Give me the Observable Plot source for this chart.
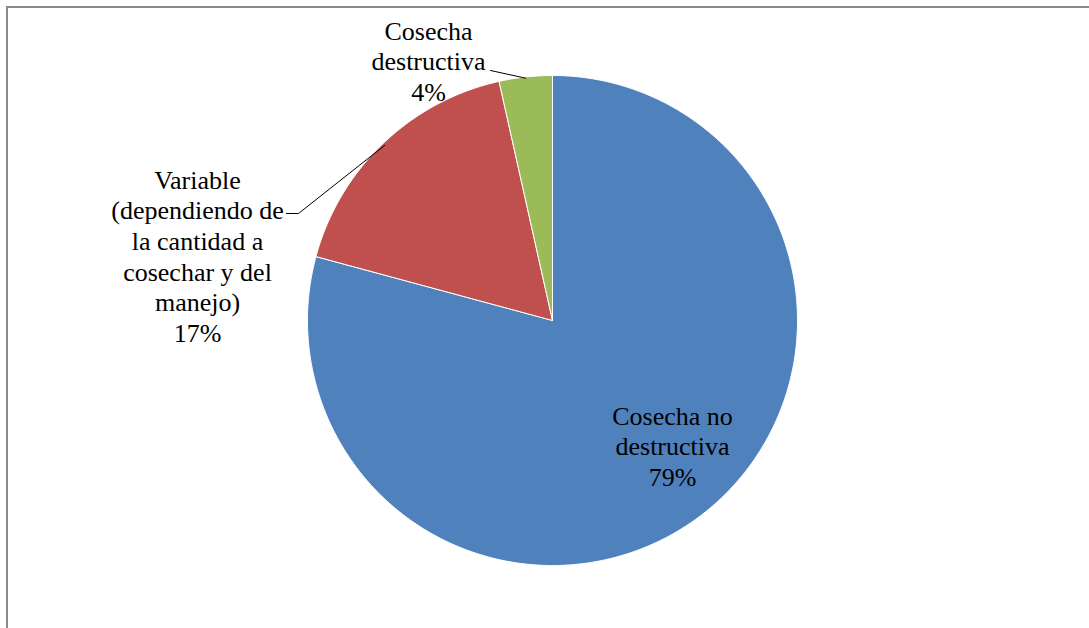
<!DOCTYPE html>
<html>
<head>
<meta charset="utf-8">
<script src="https://cdn.jsdelivr.net/npm/d3@7"></script>
<script src="https://cdn.jsdelivr.net/npm/@observablehq/plot@0.6"></script>
<style>
  html, body { margin: 0; padding: 0; background: #fff; }
  #wrap { position: relative; width: 1089px; height: 628px; overflow: hidden; }
  #frame { position: absolute; left: 6px; top: 6px; width: 1200px; height: 700px;
           border-top: 2px solid #8a8a8a; border-left: 2px solid #8a8a8a; box-sizing: border-box; }
  #chart { position: absolute; left: 0; top: 0; }
  #chart svg text { font-family: "Liberation Serif", "Times New Roman", serif !important; }
</style>
</head>
<body>
<div id="wrap"><div id="frame"></div><div id="chart"></div></div>
<script>
// ---- data ----
const categories = [
  "Cosecha no destructiva",
  "Variable (dependiendo de la cantidad a cosechar y del manejo)",
  "Cosecha destructiva"
];
const values = [79.2, 17.3, 3.5];
const labelLines = [
  ["Cosecha no", "destructiva"],
  ["Variable", "(dependiendo de", "la cantidad a", "cosechar y del", "manejo)"],
  ["Cosecha", "destructiva"]
];
const colors = ["#4F81BD", "#C0504D", "#9BBB59"];

// ---- layout (pixels) ----
const W = 1089, H = 628;
const cx = 552, cy = 320, R = 245;
const ux = px => (px - cx) / R;
const uy = py => (cy - py) / R;

const arcs = d3.pie().sort(null).value(d => d)(values);

// slice polygons in unit-circle coordinates
const slicePts = [];
arcs.forEach((a, i) => {
  const cat = categories[i];
  slicePts.push({cat, x: 0, y: 0});
  const n = Math.max(2, Math.ceil((a.endAngle - a.startAngle) / (Math.PI / 360)));
  for (let k = 0; k <= n; k++) {
    const t = a.startAngle + (a.endAngle - a.startAngle) * k / n;
    slicePts.push({cat, x: Math.sin(t), y: Math.cos(t)});
  }
  slicePts.push({cat, x: 0, y: 0});
});

const pct = values.map(v => Math.round(v / d3.sum(values) * 100) + "%");
const labelPos = [[672, 445], [197, 255], [428, 60]];
const labels = categories.map((c, i) => ({
  text: [...labelLines[i], pct[i]].join("\n"),
  x: ux(labelPos[i][0]), y: uy(labelPos[i][1])
}));

const mid = a => (a.startAngle + a.endAngle) / 2;
const edge = (a, r) => ({x: Math.sin(mid(a)) * r, y: Math.cos(mid(a)) * r});
const leaders = [
  {id: 1, x: ux(286), y: uy(213)},
  {id: 1, x: ux(298), y: uy(213)},
  {id: 1, ...edge(arcs[1], 0.99)},
  {id: 2, x: ux(490), y: uy(70)},
  {id: 2, ...edge(arcs[2], 0.995)}
];

const chart = Plot.plot({
  width: W, height: H,
  margin: 0,
  x: {domain: [ux(0), ux(W)], axis: null},
  y: {domain: [uy(H), uy(0)], axis: null},
  color: {domain: categories, range: colors},
  style: {background: "transparent", fontFamily: "'Liberation Serif', 'Times New Roman', serif"},
  marks: [
    Plot.line(slicePts, {x: "x", y: "y", z: "cat", fill: "cat", stroke: "#ffffff", strokeWidth: 1, strokeLinejoin: "round", curve: "linear"}),
    Plot.line(leaders, {x: "x", y: "y", z: "id", stroke: "#000", strokeWidth: 1}),
    Plot.text(labels, {x: "x", y: "y", text: "text", fontSize: 26, fontFamily: "'Liberation Serif', serif",
      lineHeight: 1.18, fill: "#000", textAnchor: "middle", lineAnchor: "middle"})
  ]
});
document.getElementById("chart").appendChild(chart);
</script>
</body>
</html>
